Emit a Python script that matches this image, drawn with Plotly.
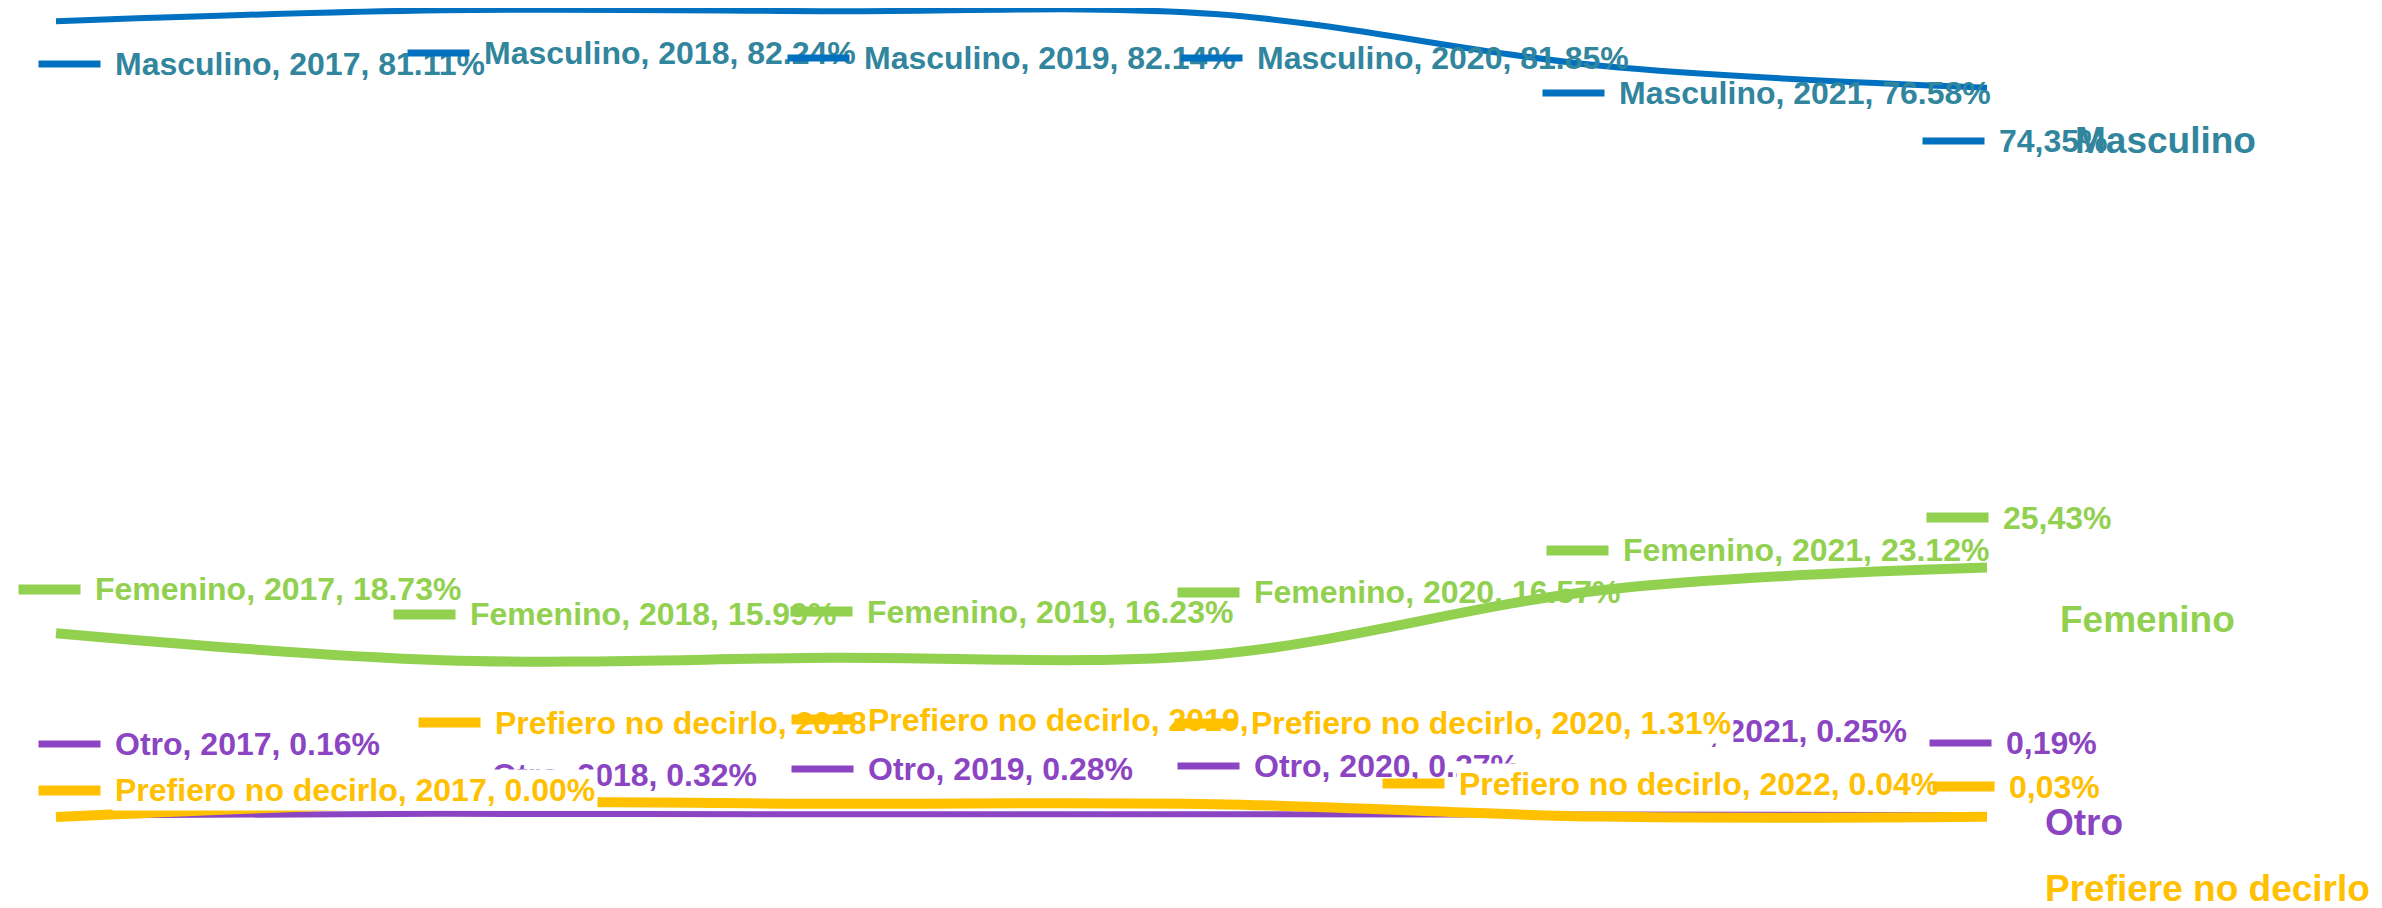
import plotly.graph_objects as go

# ---------------- data ----------------
years = [2017, 2018, 2019, 2020, 2021, 2022]
series_names = ["Masculino", "Femenino", "Otro", "Prefiero no decirlo"]
end_names = ["Masculino", "Femenino", "Otro", "Prefiere no decirlo"]
masculino = [81.11, 82.24, 82.14, 81.85, 76.58, 74.35]
femenino = [18.73, 15.99, 16.23, 16.57, 23.12, 25.43]
otro = [0.16, 0.32, 0.28, 0.27, 0.25, 0.19]
prefiero = [0.00, 1.45, 1.35, 1.31, 0.04, 0.03]
# year printed in each point label (the source prints "2022" on the 5th yellow label)
label_years = {
    "Masculino": ["2017", "2018", "2019", "2020", "2021"],
    "Femenino": ["2017", "2018", "2019", "2020", "2021"],
    "Otro": ["2017", "2018", "2019", "2020", "2021"],
    "Prefiero no decirlo": ["2017", "2018", "2019", "2020", "2022"],
}
values = [masculino, femenino, otro, prefiero]

# ---------------- styles / positions ----------------
line_colors = ["#0070C0", "#92D050", "#8B45C3", "#FFC000"]
text_colors = ["#31859C", "#92D050", "#8B45C3", "#FFC000"]
line_widths = [6, 10, 6, 10]
dash_heights = [6, 9, 6, 9]
label_bg = [None, None, None, "white"]
# pixel offsets (dash left edge dx, dash centre dy; dy>0 = downward) from each data point
label_offsets = [
    [(-18, 43), (-35, 43), (-41, 47), (-35, 44), (-59, 27), (-65, 53)],
    [(-38, -44), (-49, -46), (-38, -46), (-38, -62), (-55, -40), (-61, -50)],
    [(-18, -71), (-27, -39), (-37, -45), (-38, -48), (-36, -84), (-58, -72)],
    [(-18, -27), (-24, -80), (-37, -84), (-41, -81), (-219, -33), (-55, -30)],
]
end_offsets = [(86, 53), (71, 52), (56, 7), (56, 72)]
DASH_W = 61
GAP = 15
FONT = "Liberation Sans, Arial, sans-serif"
LABEL_SIZE = 32
END_SIZE = 37

W, H = 2382, 908
PAGE_OFF = 8  # browser body margin
px_per_year = 386.2
x0_px = 56 - PAGE_OFF
px_per_pct = 9.81
zero_px = 817 - PAGE_OFF
x_range = [years[0] - x0_px / px_per_year, years[0] + (W - x0_px) / px_per_year]
y_range = [-(H - zero_px) / px_per_pct, zero_px / px_per_pct]

fig = go.Figure()
for name, vals, col, lw in zip(series_names, values, line_colors, line_widths):
    fig.add_trace(go.Scatter(
        x=years, y=vals, mode="lines", name=name,
        line=dict(color=col, width=lw, shape="spline", smoothing=1),
        hoverinfo="skip", showlegend=False,
    ))

annotations = []
for s, (name, vals) in enumerate(zip(series_names, values)):
    for i, (yr, v) in enumerate(zip(years, vals)):
        dx, dy = label_offsets[s][i]
        if i < len(years) - 1:
            txt = f"{name}, {label_years[name][i]}, {v:.2f}%"
        else:
            txt = f"{v:.2f}".replace(".", ",") + "%"
        # dash marker
        annotations.append(dict(
            x=yr, y=v, xref="x", yref="y", text=" ", showarrow=False,
            xanchor="left", yanchor="middle", xshift=dx, yshift=-dy,
            width=DASH_W, height=dash_heights[s], bgcolor=line_colors[s],
            borderpad=0, font=dict(size=1),
        ))
        # label text
        ann = dict(
            x=yr, y=v, xref="x", yref="y", text=txt, showarrow=False,
            xanchor="left", yanchor="middle", xshift=dx + DASH_W + GAP - 2, yshift=-dy,
            borderpad=2,
            font=dict(family=FONT, size=LABEL_SIZE, color=text_colors[s], weight="bold"),
        )
        if label_bg[s]:
            ann["bgcolor"] = label_bg[s]
        annotations.append(ann)

for s, (nm, vals) in enumerate(zip(end_names, values)):
    dx, dy = end_offsets[s]
    annotations.append(dict(
        x=years[-1], y=vals[-1], xref="x", yref="y", text=nm, showarrow=False,
        xanchor="left", yanchor="middle", xshift=dx, yshift=-dy,
        font=dict(family=FONT, size=END_SIZE, color=text_colors[s], weight="bold"),
    ))

fig.update_layout(
    width=W, height=H,
    margin=dict(l=0, r=0, t=0, b=0),
    paper_bgcolor="white", plot_bgcolor="white",
    xaxis=dict(range=x_range, visible=False, fixedrange=True),
    yaxis=dict(range=y_range, visible=False, fixedrange=True),
    annotations=annotations,
    showlegend=False,
)

fig.write_html("out.html")
